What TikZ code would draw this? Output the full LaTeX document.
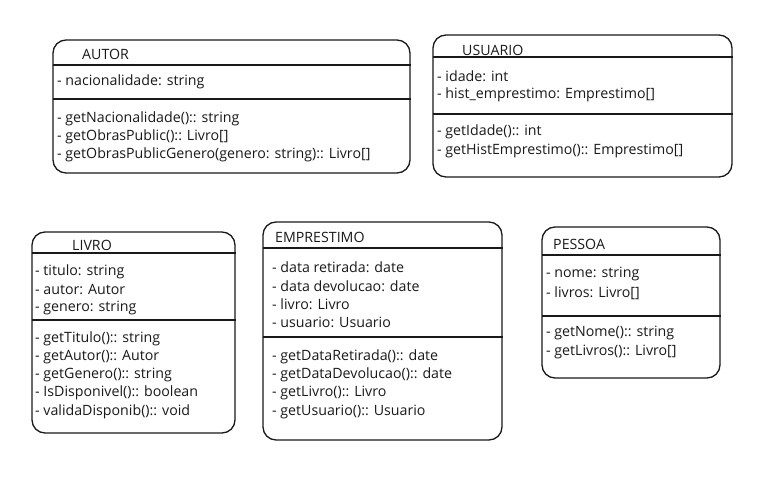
\documentclass[tikz,border=0pt]{standalone}
\usepackage{fontspec}
\setmainfont{Open Sans}
\begin{document}
\begin{tikzpicture}[x=1pt,y=-1pt,
  box/.style={draw=black!90,line width=1.3pt,rounded corners=13pt},
  sep/.style={draw=black!90,line width=1.8pt},
  txt/.style={anchor=west,inner sep=0pt,font=\fontsize{14.2}{16}\selectfont,text=black!90},
  ttl/.style={anchor=west,inner sep=0pt,font=\fontsize{14.2}{16}\selectfont,text=black!90}]
\useasboundingbox (0,0) rectangle (764,481);
% AUTOR
\draw[box] (53,40) rectangle (410,173);
\draw[sep] (53,65) -- (411,65);
\draw[sep] (53,99) -- (411,99);
\node[ttl] (autor) at (82,54) {AUTOR};
\node[txt] (a1) at (57,82) {- nacionalidade: string};
\node[txt] (a2) at (57,119) {- getNacionalidade():: string};
\node[txt] (a3) at (57,137) {- getObrasPublic():: Livro[]};
\node[txt] (a4) at (57,155) {- getObrasPublicGenero(genero: string):: Livro[]};
% USUARIO
\draw[box] (433,35) rectangle (732,177);
\draw[sep] (433,57) -- (733,57);
\draw[sep] (433,114) -- (733,114);
\node[ttl] (usuario) at (462,50) {USUARIO};
\node[txt] (u1) at (437,76) {- idade: int};
\node[txt] (u2) at (437,95) {- hist\_emprestimo: Emprestimo[]};
\node[txt] (u3) at (437,132) {- getIdade():: int};
\node[txt] (u4) at (437,151) {- getHistEmprestimo():: Emprestimo[]};
% LIVRO
\draw[box] (32,232) rectangle (235,433);
\draw[sep] (32,253) -- (236,253);
\draw[sep] (32,320) -- (236,320);
\node[ttl] (livro) at (72,245) {LIVRO};
\node[txt] (l1) at (35,272) {- titulo: string};
\node[txt] (l2) at (35,290) {- autor: Autor};
\node[txt] (l3) at (35,308) {- genero: string};
\node[txt] (l4) at (35,339) {- getTitulo():: string};
\node[txt] (l5) at (35,357) {- getAutor():: Autor};
\node[txt] (l6) at (35,375) {- getGenero():: string};
\node[txt] (l7) at (35,393) {- IsDisponivel():: boolean};
\node[txt] (l8) at (35,412) {- validaDisponib():: void};
% EMPRESTIMO
\draw[box] (263,222) rectangle (502,440);
\draw[sep] (263,248) -- (503,248);
\draw[sep] (263,337) -- (503,337);
\node[ttl] (emprestimo) at (275,237) {EMPRESTIMO};
\node[txt] (e1) at (272,267) {- data retirada: date};
\node[txt] (e2) at (272,286) {- data devolucao: date};
\node[txt] (e3) at (272,304) {- livro: Livro};
\node[txt] (e4) at (272,322) {- usuario: Usuario};
\node[txt] (e5) at (272,357) {- getDataRetirada():: date};
\node[txt] (e6) at (272,375) {- getDataDevolucao():: date};
\node[txt] (e7) at (272,393) {- getLivro():: Livro};
\node[txt] (e8) at (272,412) {- getUsuario():: Usuario};
% PESSOA
\draw[box] (542,227) rectangle (720,378);
\draw[sep] (542,255) -- (721,255);
\draw[sep] (542,316) -- (721,316);
\node[ttl] (pessoa) at (553,244) {PESSOA};
\node[txt] (p1) at (546,274) {- nome: string};
\node[txt] (p2) at (546,293) {- livros: Livro[]};
\node[txt] (p3) at (546,333) {- getNome():: string};
\node[txt] (p4) at (546,352) {- getLivros():: Livro[]};
\end{tikzpicture}
\end{document}
